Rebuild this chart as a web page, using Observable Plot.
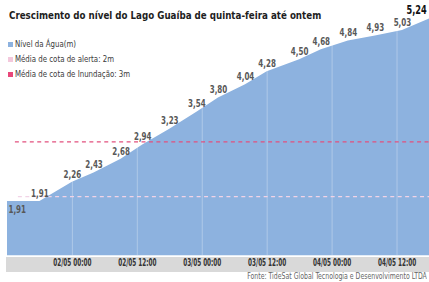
<!DOCTYPE html>
<html><head><meta charset="utf-8">
<script src="https://cdn.jsdelivr.net/npm/d3@7"></script>
<script src="https://cdn.jsdelivr.net/npm/@observablehq/plot@0.6"></script>
<style>
html,body{margin:0;padding:0;background:#fff;overflow:hidden;width:429px;height:282px}
#wrap{position:relative;width:429px;height:282px;overflow:hidden;font-family:"Liberation Sans Narrow","Arial Narrow","DejaVu Sans Condensed",sans-serif}
#band{position:absolute;left:6px;top:257px;width:430px;height:15px;background:#d9d9d9}
#chart{position:absolute;left:0;top:0}
#title{position:absolute;left:9px;top:9px;font-size:11px;font-weight:bold;color:#1e1e1e;white-space:nowrap;transform:scaleX(0.88);transform-origin:0 50%}
#legend{position:absolute;left:8px;top:38px}
.leg{font-size:9.5px;color:#3a3a3a;white-space:nowrap;height:15px;line-height:12px}
.leg .tx{display:inline-block;transform:scaleX(0.82);transform-origin:0 50%}
.sw{display:inline-block;width:5px;height:5px;margin-right:2px;vertical-align:0px}
#caption{position:absolute;right:2px;top:272px;font-size:8px;color:#666;white-space:nowrap;transform:scaleX(0.86);transform-origin:100% 50%}
</style></head><body>
<div id="wrap">
 <div id="band"></div>
 <div id="chart"></div>
 <div id="title"></div>
 <div id="legend"></div>
 <div id="caption"></div>
</div>
<script>
const titleText = "Crescimento do nível do Lago Guaíba de quinta-feira até ontem";
const captionText = "Fonte: TideSat Global Tecnologia e Desenvolvimento LTDA";
const legendLabels = ["Nível da Água(m)", "Média de cota de alerta: 2m", "Média de cota de Inundação: 3m"];
const legendColors = ["#8db2df", "#f3c8dc", "#e8477a"];

const times = [
  "2024-05-01T12:00Z", "2024-05-01T18:00Z", "2024-05-02T00:00Z", "2024-05-02T04:00Z",
  "2024-05-02T09:00Z", "2024-05-02T13:00Z", "2024-05-02T18:00Z", "2024-05-02T23:00Z",
  "2024-05-03T03:00Z", "2024-05-03T08:00Z", "2024-05-03T12:00Z", "2024-05-03T18:00Z",
  "2024-05-03T22:00Z", "2024-05-04T03:00Z", "2024-05-04T08:00Z", "2024-05-04T13:00Z",
  "2024-05-04T18:00Z"
];
const levels = [1.91, 1.91, 2.26, 2.43, 2.68, 2.94, 3.23, 3.54, 3.80, 4.04, 4.28, 4.50, 4.68, 4.84, 4.93, 5.03, 5.24];

const tickTimes = ["2024-05-02T00:00Z", "2024-05-02T12:00Z", "2024-05-03T00:00Z", "2024-05-03T12:00Z", "2024-05-04T00:00Z", "2024-05-04T12:00Z"];
const thresholds = [2, 3];
const xDomain = ["2024-05-01T12:00Z", "2024-05-04T18:00Z"];
const yDomain = [0.92, 5.58];

const data = times.map((t, i) => ({t: new Date(t), v: levels[i], i}));
const ticks = tickTimes.map(t => new Date(t));
const fmt = v => v.toFixed(2).replace(".", ",");
const last = data.length - 1;

document.getElementById("title").textContent = titleText;
document.getElementById("caption").textContent = captionText;
const leg = document.getElementById("legend");
legendLabels.forEach((l, i) => {
  const d = document.createElement("div");
  d.className = "leg";
  d.innerHTML = `<span class="sw" style="background:${legendColors[i]}"></span><span class="tx"></span>`;
  d.querySelector(".tx").textContent = l;
  leg.appendChild(d);
});

const font = '"Liberation Sans Narrow","Arial Narrow","DejaVu Sans Condensed",sans-serif';
const chart = Plot.plot({
  width: 432, height: 272,
  marginLeft: 7, marginRight: 0, marginTop: 0, marginBottom: 15,
  style: {fontFamily: font, background: "transparent", overflow: "visible"},
  x: {type: "utc", domain: xDomain.map(d => new Date(d)), ticks: ticks, tickFormat: d3.utcFormat("%d/%m %H:%M"), tickSize: 0, tickPadding: 3, label: null},
  y: {domain: yDomain, axis: null},
  marks: [
    Plot.areaY(data, {x: "t", y: "v", fill: legendColors[0], clip: true}),
    Plot.ruleX(ticks, {stroke: "white", strokeOpacity: 0.3, strokeWidth: 1}),
    Plot.ruleY([thresholds[0]], {stroke: "#f1d3e6", strokeWidth: 1.2, strokeDasharray: "4,3.5", insetLeft: 11}),
    Plot.ruleY([thresholds[1]], {stroke: "#e2507e", strokeWidth: 1.3, strokeDasharray: "4,3.5", insetLeft: 8}),
    Plot.text(data.filter(d => d.i > 0 && d.i < last), {x: "t", y: "v", text: d => fmt(d.v), dy: -8, fill: "#585858", fontSize: 10, fontWeight: "bold"}),
    Plot.text(data.filter(d => d.i === 0), {x: "t", y: "v", text: d => fmt(d.v), dy: 8, dx: 1, textAnchor: "start", fill: "#585858", fontSize: 10, fontWeight: "bold"}),
    Plot.text(data.filter(d => d.i === last), {x: "t", y: "v", text: d => fmt(d.v), dy: -9, dx: -13, fill: "#111", fontSize: 11.5, fontWeight: "bold"})
  ]
});
const xa = chart.querySelector('[aria-label="x-axis tick label"]');
if (xa) {
  xa.setAttribute("fill", "#333");
  xa.querySelectorAll("text").forEach(t => { t.setAttribute("font-size", "10"); t.setAttribute("font-weight", "bold"); });
}
// horizontally condense all svg texts around their anchor point
function squeeze(el, s) {
  const xs = el.getAttribute("x");
  const x = xs != null && /^-?[\d.]+$/.test(xs) ? +xs : 0;
  if (x) el.setAttribute("x", 0);
  const t = el.getAttribute("transform") || "";
  el.setAttribute("transform", `${t} translate(${x},0) scale(${s},1)`);
}
chart.querySelectorAll("text").forEach(t => {
  const inAxis = t.closest('[aria-label="x-axis tick label"]');
  squeeze(t, inAxis ? 0.64 : 0.8);
});
document.getElementById("chart").appendChild(chart);
</script>
</body></html>
